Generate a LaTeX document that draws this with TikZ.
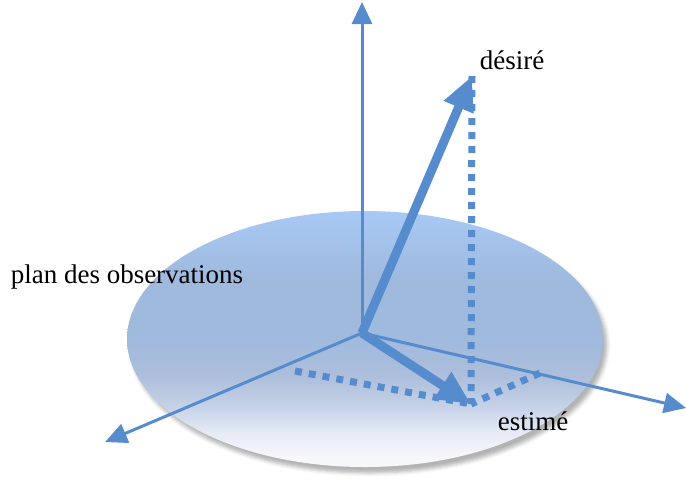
\documentclass[tikz,border=0pt]{standalone}
\usepackage{fontspec}
\setmainfont{Liberation Serif}
\usepackage{tikz}
\definecolor{axisblue}{RGB}{86, 140, 206}
\definecolor{planetop}{RGB}{168, 202, 246}
\definecolor{planemid}{RGB}{160, 186, 222}
\definecolor{planelow}{RGB}{172, 190, 219}
\definecolor{planepale}{RGB}{196, 209, 231}
\definecolor{planewash}{RGB}{228, 234, 244}
\definecolor{planebot}{RGB}{246, 247, 251}
\usetikzlibrary{arrows.meta, positioning, calc, shadows.blur}
\pgfdeclareverticalshading{planeshade}{100bp}{color(0bp)=(planebot); color(27bp)=(planebot);
    color(32bp)=(planewash); color(37bp)=(planepale); color(43bp)=(planelow);
    color(50bp)=(planemid); color(62bp)=(planemid);
    color(76bp)=(planetop); color(100bp)=(planetop)}

\begin{document}
\begin{tikzpicture}[
    x=0.5pt, y=-0.5pt,
    axis/.style={-{Triangle[length=11pt, width=10pt]}, line width=1.5pt, axisblue},
    vect/.style={-{Triangle[length=17pt, width=15pt]}, line width=4.5pt, axisblue},
    proj/.style={line width=3.5pt, axisblue, dash pattern=on 3.5pt off 3.5pt},
    label/.style={font=\fontsize{13.5}{16}\selectfont, text=black}
]
    \useasboundingbox (0,0) rectangle (686,478);

    % plan des observations
    \shade[shading=planeshade,
           blur shadow={shadow xshift=2pt, shadow yshift=-3pt, shadow opacity=30}]
        (365,339) ellipse [x radius=238, y radius=128];

    \coordinate (O) at (362,333);
    \coordinate (zTop) at (362,2);
    \coordinate (xEnd) at (105,442);
    \coordinate (yEnd) at (686,408);
    \coordinate (D) at (472,76);
    \coordinate (E) at (471,404);
    \coordinate (Px) at (295,371);
    \coordinate (Py) at (540,373);

    \draw[axis] (O) -- (zTop);
    \draw[axis] (O) -- (xEnd);
    \draw[axis] (O) -- (yEnd);

    \draw[proj] (D) -- (E);
    \draw[proj] (Px) -- (E);
    \draw[proj] (Py) -- (E);

    \draw[vect] (O) -- (D);
    \draw[vect] (O) -- (E);

    \node[label] (lDes) at (512,60) {désiré};
    \node[label] (lEst) at (533,421) {estimé};
    \node[label] (lPlan) at (127,277) {plan des observations};
\end{tikzpicture}
\end{document}
